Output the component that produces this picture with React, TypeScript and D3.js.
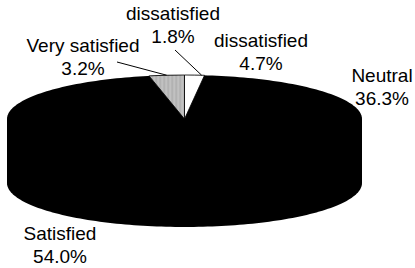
import React from 'react';
import * as d3 from 'd3';

// slices clockwise from 12 o'clock
const labels = ['Very dissatisfied', 'dissatisfied', 'Neutral', 'Satisfied', 'Very satisfied'];
const values = [1.8, 4.7, 36.3, 54.0, 3.2];
const fills = ['#ffffff', '#000000', '#000000', '#000000', 'url(#stipple)'];

// label text lines [line1, line2] and anchor positions
const labelLines = [
  ['dissatisfied', '1.8%'],
  ['dissatisfied', '4.7%'],
  ['Neutral', '36.3%'],
  ['Satisfied', '54.0%'],
  ['Very satisfied', '3.2%'],
];
const labelPos = [
  [173, 20],
  [261, 47],
  [382, 82],
  [60, 240],
  [83, 52],
];

const W = 415;
const H = 268;
const cx = 184.5;
const cy = 119;
const rx = 177.5;
const ry = 44;
const depth = 64;

const App = () => {
  const pie = d3.pie<number>().sort(null).value(d => d)(values);
  const arc = d3.arc<d3.PieArcDatum<number>>().innerRadius(0).outerRadius(rx);

  const pt = (a: number, dy = 0): [number, number] => [
    cx + rx * Math.sin(a),
    cy - ry * Math.cos(a) + dy,
  ];

  // solid silhouette of the whole cake (top ellipse + side) drawn first
  const back = d3.range(0, 121).map(k => pt((-Math.PI / 2) + (Math.PI * k) / 120));
  const front = d3.range(0, 121).map(k => pt(Math.PI / 2 + (Math.PI * k) / 120, depth));
  const silhouette = d3.line()([...back, ...front]) + 'Z';

  // side wall for the visible (front) part of each slice
  const walls = pie.map((s, i) => {
    const a0 = Math.max(s.startAngle, Math.PI / 2);
    const a1 = Math.min(s.endAngle, (3 * Math.PI) / 2);
    if (a1 <= a0 || fills[i] === '#000000') return null;
    const steps = d3.range(0, 61).map(k => a0 + ((a1 - a0) * k) / 60);
    const top = steps.map(a => pt(a));
    const bot = steps.slice().reverse().map(a => pt(a, depth));
    const d = d3.line()([...top, ...bot]) + 'Z';
    return <path key={'w' + i} d={d} fill={fills[i]} stroke="#000" strokeWidth={0.8} />;
  });

  // leader lines
  const leaders = [
    [[175, 50], pt((pie[0].startAngle + pie[0].endAngle) / 2 + 0.04)],
    [[117, 62], pt((pie[4].startAngle + pie[4].endAngle) / 2)],
  ];

  return (
    <svg width={W} height={H} style={{ position: 'absolute', left: 0, top: 0 }}>
      <defs>
        <pattern id="stipple" width="4" height="4" patternUnits="userSpaceOnUse">
          <rect width="4" height="4" fill="#e4e4e4" />
          <rect x="0" y="0" width="1" height="1" fill="#222" />
          <rect x="2" y="1" width="1" height="1" fill="#444" />
          <rect x="1" y="2" width="1" height="1" fill="#666" />
          <rect x="3" y="3" width="1" height="1" fill="#333" />
          <rect x="3" y="1" width="1" height="1" fill="#999" />
        </pattern>
      </defs>
      <rect width={W} height={H} fill="#fff" />
      <path d={silhouette} fill="#000" />
      {walls}
      <g transform={`translate(${cx},${cy}) scale(1,${ry / rx})`}>
        {pie.map((s, i) =>
          fills[i] === '#000000' ? null : (
            <path
              key={labels[i]}
              d={arc(s) || ''}
              fill={fills[i]}
              stroke="#000"
              strokeWidth={0.8}
              vectorEffect="non-scaling-stroke"
            />
          )
        )}
      </g>
      {leaders.map((l, i) => (
        <line key={'l' + i} x1={l[0][0]} y1={l[0][1]} x2={l[1][0]} y2={l[1][1]} stroke="#000" strokeWidth={1} />
      ))}
      <g fontFamily="'Liberation Sans', Arial, sans-serif" fontSize={19} fill="#000" textAnchor="middle">
        {labelLines.map((lines, i) => (
          <text key={'t' + i} x={labelPos[i][0]} y={labelPos[i][1]}>
            <tspan x={labelPos[i][0]}>{lines[0]}</tspan>
            <tspan x={labelPos[i][0]} dy={23}>{lines[1]}</tspan>
          </text>
        ))}
      </g>
    </svg>
  );
};

export default App;
